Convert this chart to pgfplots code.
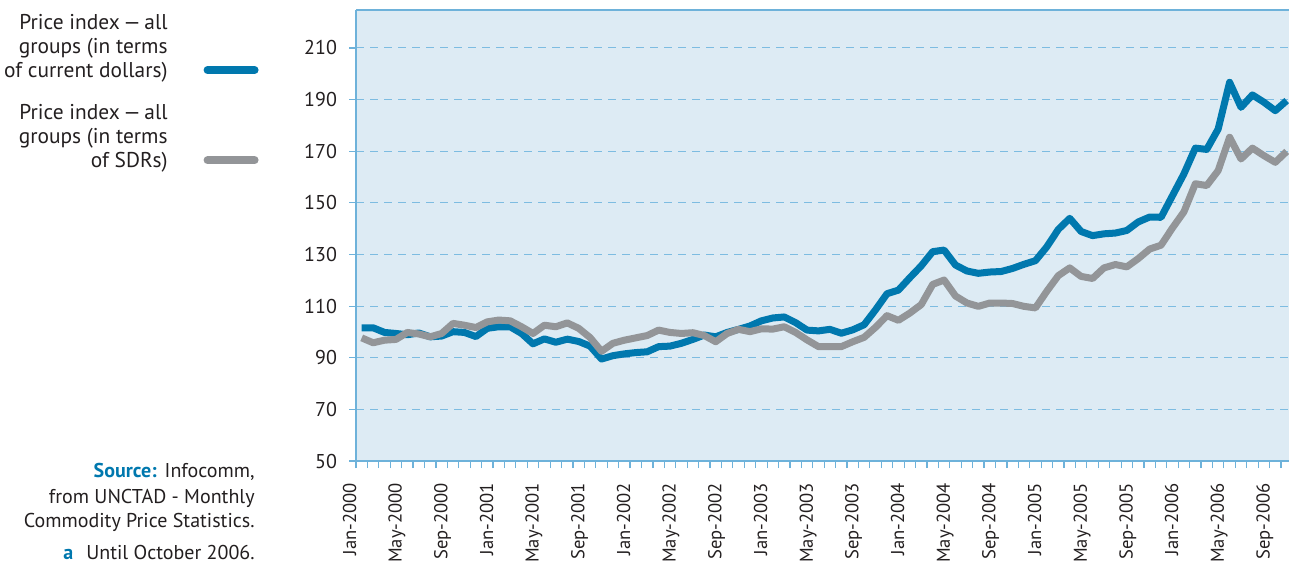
\documentclass[border=0pt]{standalone}
\usepackage{fontspec}
\setmainfont{PT Sans}
\usepackage{pgfplots}
\pgfplotsset{compat=1.18}
\usepackage{pgfplotstable}

\definecolor{serblue}{RGB}{0,120,174}
\definecolor{sergrey}{RGB}{147,149,152}
\definecolor{plotbg}{RGB}{221,235,244}
\definecolor{gridblue}{RGB}{125,188,225}
\definecolor{axblue}{RGB}{110,178,218}
\definecolor{txt}{RGB}{35,31,32}

% month index (0 = Jan-2000), current dollars, SDRs
\pgfplotstableread{
m usd sdr
0 101.6 97.7
1 101.6 95.8
2 99.8 96.8
3 99.4 97.1
4 98.9 99.8
5 99.6 99.2
6 98.1 98.1
7 98.4 99.4
8 100.1 103.3
9 99.8 102.6
10 98.2 101.7
11 101.4 103.9
12 102.0 104.6
13 102.0 104.3
14 99.4 102.0
15 95.4 99.4
16 97.3 102.6
17 96.0 102.0
18 97.2 103.5
19 96.3 101.4
20 94.5 97.8
21 89.5 92.5
22 90.8 95.6
23 91.5 96.8
24 92.0 97.7
25 92.3 98.6
26 94.3 100.7
27 94.5 99.8
28 95.6 99.4
29 97.1 99.7
30 98.8 98.6
31 98.1 96.2
32 99.8 99.4
33 101.0 101.0
34 102.3 100.1
35 104.3 101.2
36 105.4 101.1
37 105.8 102.0
38 103.6 99.8
39 100.7 96.9
40 100.4 94.3
41 101.0 94.3
42 99.5 94.3
43 100.8 96.2
44 102.8 97.9
45 108.6 101.8
46 114.8 106.3
47 116.2 104.5
48 121.0 107.3
49 125.6 110.6
50 131.1 118.4
51 131.7 120.1
52 125.9 113.9
53 123.6 111.2
54 122.7 109.9
55 123.2 111.2
56 123.4 111.2
57 124.6 111.0
58 126.2 109.9
59 127.6 109.3
60 133.0 115.8
61 139.7 121.8
62 144.0 124.8
63 138.9 121.5
64 137.3 120.7
65 138.0 124.8
66 138.3 126.1
67 139.3 125.2
68 142.6 128.4
69 144.5 132.1
70 144.4 133.6
71 152.8 140.3
72 161.2 146.5
73 171.2 157.4
74 170.7 156.7
75 178.6 162.5
76 196.7 175.4
77 187.0 167.0
78 191.8 171.2
79 189.0 168.3
80 185.7 165.7
81 189.6 169.9
}\prices

\begin{document}
\begin{tikzpicture}[font=\fontsize{10}{12}\selectfont, text=txt]
\useasboundingbox (0,0) rectangle (644.5pt,281.5pt);
\begin{axis}[
    at={(178pt,51pt)}, anchor=south west,
    scale only axis, width=468.2pt, height=225.5pt,
    xmin=-0.5, xmax=81.5, ymin=50, ymax=224.7,
    axis background/.style={fill=plotbg},
    axis x line*=box, axis y line*=left,
    axis line style={axblue, line width=0.8pt},
    xtick pos=bottom, ytick pos=left,
    tick align=outside,
    major tick length=3.5pt, minor tick length=3.5pt,
    tick style={axblue, line width=0.6pt},
    xtick={-0.5,3.5,...,79.5},
    minor xtick={-0.5,0.5,...,81.5},
    xticklabels={Jan-2000,May-2000,Sep-2000,Jan-2001,May-2001,Sep-2001,
      Jan-2002,May-2002,Sep-2002,Jan-2003,May-2003,Sep-2003,
      Jan-2004,May-2004,Sep-2004,Jan-2005,May-2005,Sep-2005,
      Jan-2006,May-2006,Sep-2006},
    xticklabel style={rotate=90, anchor=base east, font=\fontsize{9.3}{11}\selectfont},
    xticklabel shift=4pt,
    ytick={50,70,...,210},
    yticklabel shift=2.5pt,
    yticklabel style={font=\fontsize{10}{12}\selectfont},
    ymajorgrids,
    grid style={gridblue, dash pattern=on 4pt off 3pt, line width=0.5pt},
    /pgf/number format/assume math mode=true,
    tick label style={text=txt},
    legend plot pos=right,
    legend cell align=right,
    legend style={at={(-0.1036,1.0)}, anchor=north east, draw=none, fill=none,
      inner sep=0pt, row sep=8pt, column sep=16pt,
      font=\fontsize{10.7}{12}\selectfont, cells={align=right, text=txt}},
    legend image code/.code={\draw[#1, line width=4pt, line cap=round]
      (0pt,-11.3pt) -- (23.5pt,-11.3pt);},
]
\addplot[serblue, line width=3.5pt, line join=round] table[x=m, y=usd] {\prices};
\addlegendentry{Price index\,—\,all\\groups (in terms\\of current dollars)}
\addplot[sergrey, line width=3.5pt, line join=round] table[x=m, y=sdr] {\prices};
\addlegendentry{Price index\,—\,all\\groups (in terms\\of SDRs)}
\end{axis}
\node[anchor=base east, inner sep=0pt] at (127.5pt,43pt)
  {\textcolor{serblue}{\bfseries Source:}\hspace{4pt}Infocomm,};
\node[anchor=base east, inner sep=0pt] at (127.5pt,30pt) {from UNCTAD - Monthly};
\node[anchor=base east, inner sep=0pt] at (127.5pt,18pt) {Commodity Price Statistics.};
\node[anchor=base west, inner sep=0pt] at (31.5pt,2pt) {\textcolor{serblue}{\bfseries a}};
\node[anchor=base east, inner sep=0pt] at (127.5pt,2pt) {Until October 2006.};
\end{tikzpicture}
\end{document}
